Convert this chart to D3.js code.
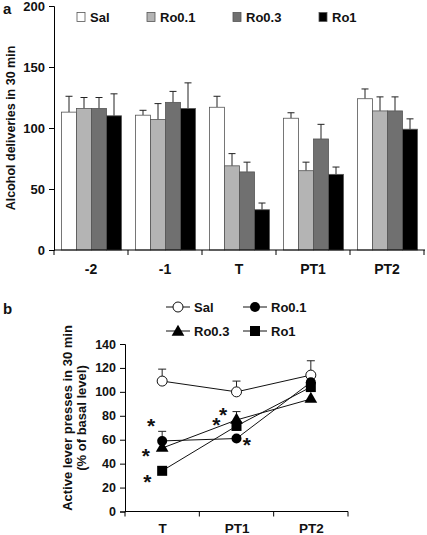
<!DOCTYPE html>
<html><head><meta charset="utf-8">
<script src="https://cdn.jsdelivr.net/npm/d3@7"></script>
<style>
body{margin:0;background:#fff;}
text{font-family:"Liberation Sans",Arial,sans-serif;font-weight:bold;fill:#111;}
</style></head>
<body>
<svg id="c" width="427" height="535"></svg>
<script>
// ---------- Panel a data ----------
const catsA = ["-2", "-1", "T", "PT1", "PT2"];
const seriesNames = ["Sal", "Ro0.1", "Ro0.3", "Ro1"];
const salA    = [113, 110.5, 117, 108, 124];
const ro01A   = [116, 107, 69, 65, 114];
const ro03A   = [116, 121, 64, 91, 114];
const ro1A    = [110, 116, 33, 62, 99];
const salAErr  = [13, 4, 9, 4.5, 8];
const ro01AErr = [9, 13, 10, 7, 11.5];
const ro03AErr = [9, 9, 8, 12, 11.5];
const ro1AErr  = [18, 21, 5.5, 6, 8.5];
const ticksA = [0, 50, 100, 150, 200];

// ---------- Panel b data ----------
const catsB = ["T", "PT1", "PT2"];
const salB  = [109, 100, 114];
const ro01B = [59, 61, 108];
const ro03B = [53, 76.5, 94];
const ro1B  = [34, 71.5, 104];
const salBErr  = [10, 9, 12];
const ro01BErr = [8, 0, 0];
const ro03BErr = [0, 7, 0];
const ro1BErr  = [0, 0, 0];
const ticksB = [0, 20, 40, 60, 80, 100, 120, 140];
// asterisks: [category, value, x-offset in category units]
const starsB = [["T", 75, -0.15], ["T", 50, -0.22], ["T", 28, -0.2],
                ["PT1", 76, -0.27], ["PT1", 84, -0.18], ["PT1", 59, 0.14]];

const fills = ["#ffffff", "#b4b4b4", "#707070", "#000000"];
const svg = d3.select("#c");

// ================= Panel a =================
const valsA = [salA, ro01A, ro03A, ro1A];
const errsA = [salAErr, ro01AErr, ro03AErr, ro1AErr];
const xA = d3.scaleBand().domain(catsA).range([54, 424]).padding(0);
const xInner = d3.scaleBand().domain(seriesNames).range([7.5, xA.bandwidth() - 6.5]).padding(0);
const yA = d3.scaleLinear().domain([0, 200]).range([250, 6]);

const gA = svg.append("g");
seriesNames.forEach((s, si) => {
  catsA.forEach((c, ci) => {
    const x0 = xA(c) + xInner(s);
    const w = xInner.bandwidth();
    const v = valsA[si][ci], e = errsA[si][ci];
    const cx = x0 + w / 2;
    gA.append("line").attr("x1", cx).attr("x2", cx).attr("y1", yA(v)).attr("y2", yA(v + e))
      .attr("stroke", "#222").attr("stroke-width", 1);
    gA.append("line").attr("x1", cx - 3.5).attr("x2", cx + 3.5).attr("y1", yA(v + e)).attr("y2", yA(v + e))
      .attr("stroke", "#222").attr("stroke-width", 1);
    gA.append("rect").attr("x", x0).attr("y", yA(v)).attr("width", w).attr("height", yA(0) - yA(v))
      .attr("fill", fills[si]).attr("stroke", "#555").attr("stroke-width", 0.8);
  });
});

const yAxisA = gA.append("g").attr("transform", "translate(54,0)")
  .call(d3.axisLeft(yA).tickValues(ticksA).tickSize(5).tickPadding(4));
yAxisA.selectAll("text").style("font-size", "13px");
const xAxisA = gA.append("g").attr("transform", "translate(0,250)")
  .call(d3.axisBottom(xA).tickSize(0).tickPadding(14));
xAxisA.selectAll("text").style("font-size", "14px");
xAxisA.select(".domain").attr("d", "M54,0H425");
[0, 1, 2, 3, 4, 5].forEach(i => {
  const bx = 54 + i * xA.step();
  xAxisA.append("line").attr("x1", bx).attr("x2", bx).attr("y1", 0).attr("y2", 5).attr("stroke", "#000");
});
svg.selectAll(".domain").attr("stroke", "#000");
svg.selectAll(".tick line").attr("stroke", "#000");

// legend a
const legAX = [77, 147, 233, 319];
seriesNames.forEach((s, i) => {
  svg.append("rect").attr("x", legAX[i]).attr("y", 12.5).attr("width", 8).attr("height", 9)
    .attr("fill", fills[i]).attr("stroke", "#555").attr("stroke-width", 0.8);
  svg.append("text").attr("x", legAX[i] + 13).attr("y", 22).text(s).style("font-size", "13px");
});

svg.append("text").attr("x", 3).attr("y", 14).text("a").style("font-size", "15px");
svg.append("text").attr("transform", "translate(15,128) rotate(-90)").attr("text-anchor", "middle")
  .style("font-size", "12.5px").text("Alcohol deliveries in 30 min");

// ================= Panel b =================
const valsB = [salB, ro01B, ro03B, ro1B];
const errsB = [salBErr, ro01BErr, ro03BErr, ro1BErr];
const xB = d3.scalePoint().domain(catsB).range([125, 348]).padding(0.5);
const xBand = d3.scaleBand().domain(catsB).range([125, 348]);
const yB = d3.scaleLinear().domain([0, 140]).range([511.5, 344]);
const gB = svg.append("g");

const yAxisB = gB.append("g").attr("transform", "translate(125,0)")
  .call(d3.axisLeft(yB).tickValues(ticksB).tickSize(5).tickPadding(4));
yAxisB.selectAll("text").style("font-size", "12.5px");
const xAxisB = gB.append("g").attr("transform", "translate(0,511.5)")
  .call(d3.axisBottom(xB).tickSize(0).tickPadding(12));
xAxisB.selectAll("text").style("font-size", "13.5px");
xAxisB.select(".domain").attr("d", "M125,0H348");
[0, 1, 2, 3].forEach(i => {
  const bx = 125 + i * xBand.step();
  xAxisB.append("line").attr("x1", bx).attr("x2", bx).attr("y1", 0).attr("y2", 5).attr("stroke", "#000");
});
gB.selectAll(".domain").attr("stroke", "#000");
gB.selectAll(".tick line").attr("stroke", "#000");

const line = d3.line().x((d, i) => xB(catsB[i])).y(d => yB(d));
valsB.forEach((vals, si) => {
  vals.forEach((v, ci) => {
    const e = errsB[si][ci];
    if (e > 0) {
      const cx = xB(catsB[ci]);
      gB.append("line").attr("x1", cx).attr("x2", cx).attr("y1", yB(v)).attr("y2", yB(v + e)).attr("stroke", "#222");
      gB.append("line").attr("x1", cx - 4).attr("x2", cx + 4).attr("y1", yB(v + e)).attr("y2", yB(v + e)).attr("stroke", "#222");
    }
  });
});
valsB.forEach(vals => {
  gB.append("path").datum(vals).attr("d", line).attr("fill", "none").attr("stroke", "#111").attr("stroke-width", 1);
});
function marker(g, type, x, y) {
  if (type === 0) g.append("circle").attr("cx", x).attr("cy", y).attr("r", 5).attr("fill", "#fff").attr("stroke", "#111").attr("stroke-width", 1);
  else if (type === 1) g.append("circle").attr("cx", x).attr("cy", y).attr("r", 5).attr("fill", "#000");
  else if (type === 2) g.append("path").attr("d", d3.symbol(d3.symbolTriangle, 70)()).attr("transform", `translate(${x},${y})`).attr("fill", "#000");
  else g.append("rect").attr("x", x - 5).attr("y", y - 5).attr("width", 10).attr("height", 10).attr("fill", "#000");
}
valsB.forEach((vals, si) => {
  vals.forEach((v, ci) => marker(gB, si, xB(catsB[ci]), yB(v)));
});
starsB.forEach(([c, v, off]) => {
  gB.append("text").attr("x", xB(c) + off * xBand.step()).attr("y", yB(v) + 11)
    .attr("text-anchor", "middle").style("font-size", "21px").text("*");
});

// legend b
const legB = [[166, 307, 0, "Sal"], [243, 307, 1, "Ro0.1"], [166, 331, 2, "Ro0.3"], [243, 331, 3, "Ro1"]];
legB.forEach(([lx, ly, t, s]) => {
  svg.append("line").attr("x1", lx).attr("x2", lx + 24).attr("y1", ly).attr("y2", ly).attr("stroke", "#111");
  marker(svg, t, lx + 12, ly + (t === 2 ? 1 : 0));
  svg.append("text").attr("x", lx + 28).attr("y", ly + 4.5).text(s).style("font-size", "13px");
});

svg.append("text").attr("x", 3).attr("y", 314).text("b").style("font-size", "15px");
svg.append("text").attr("transform", "translate(72,418) rotate(-90)").attr("text-anchor", "middle")
  .style("font-size", "13px").text("Active lever presses in 30 min");
svg.append("text").attr("transform", "translate(86,418) rotate(-90)").attr("text-anchor", "middle")
  .style("font-size", "13px").text("(% of basal level)");
</script>
</body></html>
